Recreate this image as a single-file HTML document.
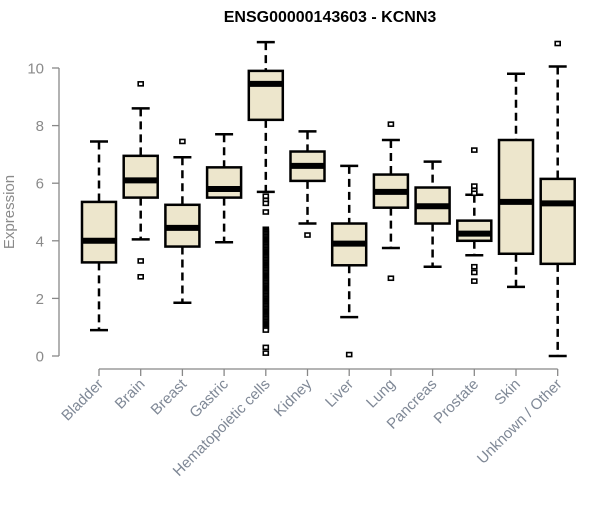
<!DOCTYPE html>
<html><head><meta charset="utf-8"><style>
body{margin:0;background:#fff;font-family:"Liberation Sans",Arial,sans-serif}
svg text{font-family:"Liberation Sans",Arial,sans-serif}
</style></head><body>
<svg id="c" width="600" height="500" xmlns="http://www.w3.org/2000/svg">
<text x="330" y="22" text-anchor="middle" font-size="16" font-weight="bold" fill="#000">ENSG00000143603 - KCNN3</text>
<text transform="translate(14,212) rotate(-90)" text-anchor="middle" font-size="15" fill="#8a8a8a">Expression</text>
<g id="axes"></g><g id="marks"></g>
</svg>
<script>
const categories=["Bladder","Brain","Breast","Gastric","Hematopoietic cells","Kidney","Liver","Lung","Pancreas","Prostate","Skin","Unknown / Other"];
const whiskerHigh=[7.45,8.6,6.9,7.7,10.9,7.8,6.6,7.5,6.75,5.6,9.8,10.05];
const q3=[5.35,6.95,5.25,6.55,9.9,7.1,4.6,6.3,5.85,4.7,7.5,6.15];
const medians=[4.0,6.1,4.45,5.8,9.45,6.6,3.9,5.7,5.2,4.25,5.35,5.3];
const q1=[3.25,5.5,3.8,5.5,8.2,6.08,3.15,5.15,4.6,4.0,3.55,3.2];
const whiskerLow=[0.9,4.05,1.85,3.95,5.7,4.6,1.35,3.75,3.1,3.5,2.4,0.0];
const outliers=[[],[9.45,3.3,2.75],[7.45],[],[5.55,5.4,5.3,5.0,4.4,4.35,4.3,4.25,4.2,4.15,4.1,4.05,4.0,3.95,3.9,3.85,3.8,3.75,3.7,3.65,3.6,3.55,3.5,3.45,3.4,3.35,3.3,3.25,3.2,3.15,3.1,3.05,3.0,2.95,2.9,2.85,2.8,2.75,2.7,2.65,2.6,2.55,2.5,2.45,2.4,2.35,2.3,2.25,2.2,2.15,2.1,2.05,2.0,1.95,1.9,1.85,1.8,1.75,1.7,1.65,1.6,1.55,1.5,1.45,1.4,1.35,1.3,1.25,1.2,1.15,1.1,1.05,1.0,0.95,0.9,0.3,0.1],[4.2],[0.05],[8.05,2.7],[],[7.15,5.9,5.75,5.65,3.1,2.9,2.6],[],[10.85]];
const yTicks=[0,2,4,6,8,10];
const NS="http://www.w3.org/2000/svg";
const xS=i=>99+i*41.7;
const yS=v=>356-v*28.8;
const axes=document.getElementById('axes'),marks=document.getElementById('marks');
function mk(p,tag,attrs){const e=document.createElementNS(NS,tag);for(const k in attrs)e.setAttribute(k,attrs[k]);p.appendChild(e);return e;}
let ya=mk(axes,'line',{x1:59,x2:59,y1:yS(10),y2:yS(0),stroke:'#888','stroke-width':1.3});


yTicks.forEach(t=>{
 let l=mk(axes,'line',{x1:52,x2:59,y1:yS(t),y2:yS(t),stroke:'#888','stroke-width':1.3});
 
 
 let tx=mk(axes,'text',{x:44,y:yS(t)+5.5,'text-anchor':'end','font-size':15,fill:'#8a8a8a'});tx.textContent=t;
 
 
});
let xa=mk(axes,'line',{x1:xS(0),x2:xS(categories.length-1),y1:369,y2:369,stroke:'#888','stroke-width':1.3});


categories.forEach((c,i)=>{
 const x=xS(i);
 let l=mk(axes,'line',{x1:x,x2:x,y1:369,y2:376,stroke:'#888','stroke-width':1.3});
 
 
 let tx=mk(axes,'text',{transform:`translate(${x+5},${385}) rotate(-45)`,'text-anchor':'end','font-size':15,fill:'#7f8896'});tx.textContent=c;
 
 
 const g=mk(marks,'g',{});
 
 
 mk(g,'line',{x1:x,x2:x,y1:yS(whiskerHigh[i]),y2:yS(q3[i]),stroke:'#000','stroke-width':2.5,'stroke-dasharray':'8,5'});
 mk(g,'line',{x1:x,x2:x,y1:yS(q1[i]),y2:yS(whiskerLow[i]),stroke:'#000','stroke-width':2.5,'stroke-dasharray':'8,5'});
 mk(g,'line',{x1:x-9,x2:x+9,y1:yS(whiskerHigh[i]),y2:yS(whiskerHigh[i]),stroke:'#000','stroke-width':2.5});
 mk(g,'line',{x1:x-9,x2:x+9,y1:yS(whiskerLow[i]),y2:yS(whiskerLow[i]),stroke:'#000','stroke-width':2.5});
 mk(g,'rect',{x:x-17,y:yS(q3[i]),width:34,height:yS(q1[i])-yS(q3[i]),fill:'#ede6cc',stroke:'#000','stroke-width':2.5});
 mk(g,'line',{x1:x-17,x2:x+17,y1:yS(medians[i]),y2:yS(medians[i]),stroke:'#000','stroke-width':6});
 outliers[i].forEach(o=>{
  let r=mk(g,'rect',{x:x-2.5,y:yS(o)-2,width:5,height:4,fill:'#fff',stroke:'#000','stroke-width':1.6});
  
  
 });
});
</script>
</body></html>
